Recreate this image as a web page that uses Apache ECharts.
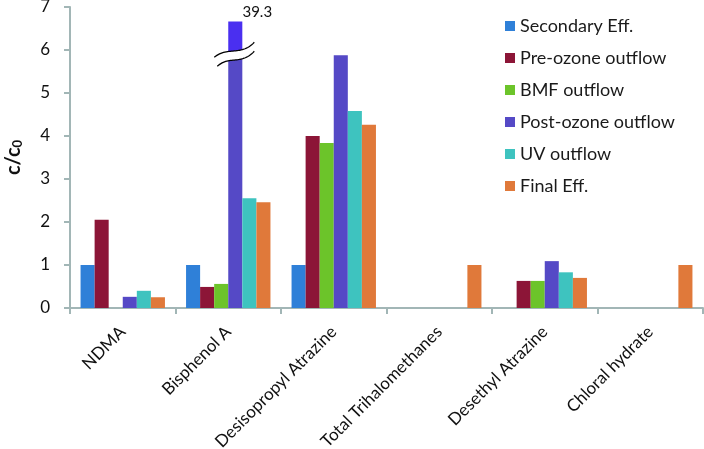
<!DOCTYPE html>
<html><head><meta charset="utf-8">
<script src="https://cdn.jsdelivr.net/npm/echarts@6/dist/echarts.min.js"></script>
<style>html,body{margin:0;padding:0;background:#fff}#c{width:704px;height:449px}</style>
</head><body><div id="c"></div><script>
// ---- data ----
const categories = ['NDMA', 'Bisphenol A', 'Desisopropyl Atrazine', 'Total Trihalomethanes', 'Desethyl Atrazine', 'Chloral hydrate'];
const seriesNames = ['Secondary Eff.', 'Pre-ozone outflow', 'BMF outflow', 'Post-ozone outflow', 'UV outflow', 'Final Eff.'];
const secondaryEff = [1, 1, 1, null, null, null];
const preOzoneOutflow = [2.05, 0.49, 4.0, null, 0.63, null];
const bmfOutflow = [null, 0.56, 3.84, null, 0.63, null];
const postOzoneOutflow = [0.26, 39.3, 5.88, null, 1.09, null];
const uvOutflow = [0.40, 2.55, 4.58, null, 0.83, null];
const finalEff = [0.25, 2.46, 4.26, 1.0, 0.70, 1.0];
const yTicks = [0, 1, 2, 3, 4, 5, 6, 7];
// off-scale values are drawn with a broken bar up to this height
const brokenBarTop = 6.66;
const breakValue = 5.9;

const colors = ['#2f80d8', '#8c1537', '#6cc42a', '#5549c6', '#3ec3bf', '#e0793a'];
const seriesData = [secondaryEff, preOzoneOutflow, bmfOutflow, postOzoneOutflow, uvOutflow, finalEff];
const yMax = yTicks[yTicks.length - 1];
const FONT = 'Lato, "Open Sans", sans-serif';
const axisColor = '#a2b6b6';

const series = seriesData.map((arr, si) => ({
  name: seriesNames[si],
  type: 'bar',
  barGap: '0%',
  barCategoryGap: '20%',
  itemStyle: { color: colors[si] },
  data: arr.map(v => {
    if (v != null && v > yMax) {
      const frac = (brokenBarTop - breakValue) / brokenBarTop;
      return {
        value: brokenBarTop,
        itemStyle: {
          color: new echarts.graphic.LinearGradient(0, 0, 0, 1, [
            { offset: 0, color: '#4a2ff0' },
            { offset: frac, color: '#4a2ff0' },
            { offset: frac, color: colors[si] },
            { offset: 1, color: colors[si] }
          ])
        },
        label: {
          show: true, position: 'top', formatter: String(v),
          offset: [22, 3], fontSize: 15, color: '#111', fontFamily: FONT
        }
      };
    }
    return v;
  })
}));

const chart = echarts.init(document.getElementById('c'), null, { renderer: 'canvas' });
chart.setOption({
  animation: false,
  color: colors,
  grid: { left: 70, right: 1, top: 7, bottom: 141, containLabel: false, outerBoundsMode: 'none' },
  legend: {
    orient: 'vertical', left: 500, top: 12,
    icon: 'rect', itemWidth: 10, itemHeight: 10, itemGap: 14,
    textStyle: { fontSize: 18, color: '#1a1a1a', fontFamily: FONT },
    data: seriesNames
  },
  xAxis: {
    type: 'category', data: categories,
    axisLine: { lineStyle: { color: axisColor, width: 2 } },
    axisTick: { show: true, length: 6, lineStyle: { color: axisColor, width: 2 } },
    axisLabel: { interval: 0, rotate: 45, fontSize: 17, margin: 21, color: '#111', fontFamily: FONT }
  },
  yAxis: {
    type: 'value', min: 0, max: yMax, interval: 1,
    name: '{a|c/c}{b|0}', nameLocation: 'middle', nameGap: 46,
    nameTextStyle: {
      rich: {
        a: { fontSize: 20, fontWeight: 'bold', color: '#111', fontFamily: FONT, verticalAlign: 'bottom' },
        b: { fontSize: 13, fontWeight: 'bold', color: '#111', fontFamily: FONT, verticalAlign: 'bottom', padding: [6, 0, 0, 0] }
      }
    },
    axisLine: { show: true, lineStyle: { color: axisColor, width: 2 } },
    axisTick: { show: true, length: 6, lineStyle: { color: axisColor, width: 2 } },
    splitLine: { show: false },
    axisLabel: { fontSize: 17, margin: 20, color: '#111', fontFamily: FONT }
  },
  series: series
});

// ---- break symbol on off-scale bars ----
function cubic(p0, p1, p2, p3, n) {
  const pts = [];
  for (let i = 0; i <= n; i++) {
    const t = i / n, u = 1 - t;
    pts.push([
      u*u*u*p0[0] + 3*u*u*t*p1[0] + 3*u*t*t*p2[0] + t*t*t*p3[0],
      u*u*u*p0[1] + 3*u*u*t*p1[1] + 3*u*t*t*p2[1] + t*t*t*p3[1]
    ]);
  }
  return pts;
}
const elements = [];
seriesData.forEach((arr, si) => {
  arr.forEach((v, ci) => {
    if (v != null && v > yMax) {
      const lay = chart.getModel().getSeriesByIndex(si).getData().getItemLayout(ci);
      const cx = lay.x + lay.width / 2;
      const cy = chart.convertToPixel({ yAxisIndex: 0 }, breakValue);
      const up = cubic([cx - 21, cy + 3], [cx - 8, cy - 8], [cx + 6, cy + 2], [cx + 19, cy - 12], 30);
      const lo = cubic([cx - 18, cy + 12], [cx - 6, cy + 1], [cx + 6, cy + 11], [cx + 19, cy - 3], 30);
      elements.push({ type: 'polygon', shape: { points: up.concat(lo.slice().reverse()) }, style: { fill: '#fff' }, z: 100 });
      elements.push({ type: 'polyline', shape: { points: up }, style: { stroke: '#000', lineWidth: 1.3, fill: null }, z: 101 });
      elements.push({ type: 'polyline', shape: { points: lo }, style: { stroke: '#000', lineWidth: 1.3, fill: null }, z: 101 });
    }
  });
});
chart.setOption({ graphic: { elements: elements } });
</script></body></html>
